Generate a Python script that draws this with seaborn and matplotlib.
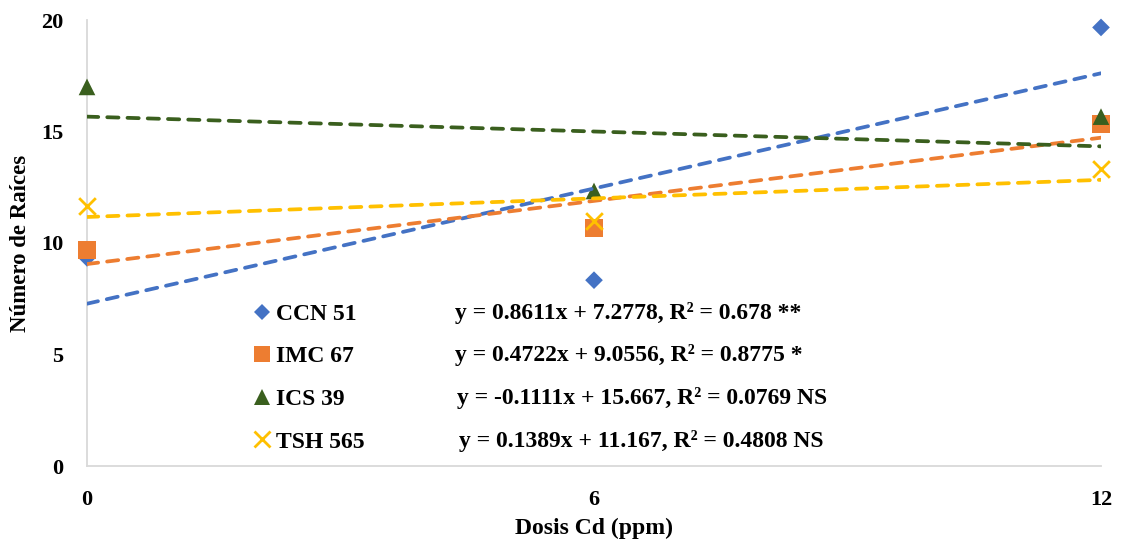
import numpy as np
import pandas as pd
import matplotlib
matplotlib.use("Agg")
import matplotlib.pyplot as plt
import seaborn as sns
from matplotlib.lines import Line2D

sns.set_theme(style="white")
plt.rcParams['font.family'] = ['Liberation Serif', 'DejaVu Serif']
plt.rcParams['font.weight'] = 'bold'
plt.rcParams['text.color'] = 'black'
plt.rcParams['axes.labelcolor'] = 'black'
plt.rcParams['xtick.color'] = 'black'
plt.rcParams['ytick.color'] = 'black'

doses = [0, 6, 12]
series_names = ["CCN 51", "IMC 67", "ICS 39", "TSH 565"]
ccn51 = [9.333, 8.333, 19.667]
imc67 = [9.667, 10.667, 15.333]
ics39 = [17.0, 12.333, 15.667]
tsh565 = [11.667, 11.0, 13.333]
equations = [
    "y = 0.8611x + 7.2778, R² = 0.678 **",
    "y = 0.4722x + 9.0556, R² = 0.8775 *",
    "y = -0.1111x + 15.667, R² = 0.0769 NS",
    "y = 0.1389x + 11.167, R² = 0.4808 NS",
]
colors = ["#4472C4", "#ED7D31", "#3A5F1E", "#FFC000"]
markers = ["D", "s", "^", "x"]
msizes = [9, 13, 12, 12]

values = [ccn51, imc67, ics39, tsh565]
df = pd.DataFrame({
    "dose": np.tile(doses, 4),
    "value": np.concatenate(values),
    "series": np.repeat(series_names, 3),
})

fig = plt.figure(figsize=(11.25, 5.49), dpi=100)
ax = fig.add_axes([87/1125, 1-466/549, (1101-87)/1125, (466-20)/549])

for name, col, mk, ms in zip(series_names, colors, markers, msizes):
    sub = df[df.series == name]
    sns.scatterplot(data=sub, x="dose", y="value", ax=ax, color=col, marker=mk,
                    s=ms**2, linewidth=2 if mk == "x" else 0, edgecolor=col if mk == "x" else "none",
                    zorder=3, clip_on=False, legend=False)
    slope, intercept = np.polyfit(sub.dose, sub.value, 1)
    xs = np.array([0, 12])
    sns.lineplot(x=xs, y=slope*xs + intercept, ax=ax, color=col, linewidth=2.7,
                 dashes=False, zorder=4, legend=False)
    ln = ax.lines[-1]
    ln.set_linestyle((0, (3.0, 2.4)))
    ln.set_dash_capstyle('round')

ax.set_xlim(0, 12)
ax.set_ylim(0, 20)
ax.set_xticks([0, 6, 12])
ax.set_yticks([0, 5, 10, 15, 20])
ax.tick_params(axis='x', length=0, pad=17, labelsize=16)
ax.tick_params(axis='y', length=0, pad=17, labelsize=16)
for lab in ax.get_xticklabels() + ax.get_yticklabels():
    lab.set_fontweight('bold')
for s in ["top", "right"]:
    ax.spines[s].set_visible(False)
for s in ["left", "bottom"]:
    ax.spines[s].set_color("#D9D9D9")
    ax.spines[s].set_linewidth(1.3)
ax.set_xlabel("Dosis Cd (ppm)", fontsize=17, fontweight='bold', labelpad=6)
ax.set_ylabel("Número de Raíces", fontsize=16.5, fontweight='bold', labelpad=7)

handles = [Line2D([], [], linestyle='none', marker=mk, color=col,
                  markersize={"D": 8.5, "s": 11, "^": 11, "x": 11}[mk],
                  markeredgewidth=2 if mk == "x" else 0)
           for col, mk in zip(colors, markers)]
leg = ax.legend(handles, series_names, loc='center left',
                bbox_to_anchor=(255/1125, 1-378/549), bbox_transform=fig.transFigure,
                frameon=False, handlelength=0.6, handletextpad=0.3,
                borderaxespad=0, borderpad=0,
                labelspacing=0.89, prop={'family': 'Liberation Serif', 'weight': 'bold', 'size': 17})

eq_x = [455, 455, 457, 459]
eq_y = [313, 355, 398, 441]
for t, xx, yy in zip(equations, eq_x, eq_y):
    fig.text(xx/1125, 1-yy/549, t, fontsize=17, fontweight='bold', va='center', ha='left')

fig.savefig("out.png", dpi=100)
